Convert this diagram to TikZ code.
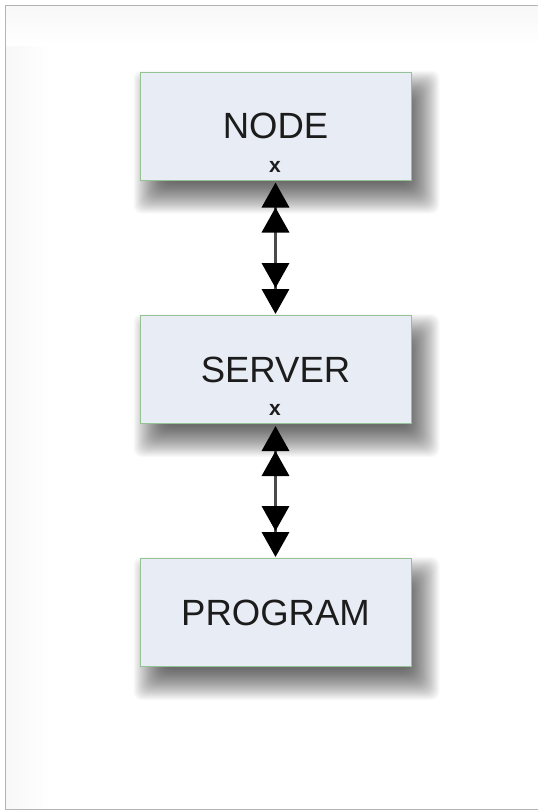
\documentclass[tikz,border=0pt]{standalone}
\usepackage{fontspec}
\setmainfont{Liberation Sans}
\usetikzlibrary{arrows.meta,positioning}
\definecolor{boxfill}{HTML}{E8ECF4}
\definecolor{boxline}{HTML}{94C294}
\definecolor{frameline}{HTML}{B4B4B4}
\definecolor{txt}{HTML}{1C1C1C}
\definecolor{arrowc}{HTML}{4A4A4A}
\pgfdeclarelayer{backdrop}
\pgfdeclarelayer{shadowlayer}
\pgfsetlayers{backdrop,shadowlayer,main}
\tikzset{
  compbox/.style={draw=boxline, line width=1pt, fill=boxfill, minimum width=271pt, minimum height=108pt,
    inner sep=0pt, font=\fontsize{36.5}{40}\selectfont, text=txt},
  xmark/.style={font=\bfseries\fontsize{21}{22}\selectfont, text=txt, inner sep=0pt},
  shadowstep/.style={fill=black, fill opacity=0.025, rounded corners=8pt},
  link/.style={draw=arrowc, line width=3.5pt, shorten >=1pt, shorten <=1pt,
    {Triangle[width=27pt,length=25pt,sep=1pt,fill=black,color=black] Triangle[width=27pt,length=25pt,fill=black,color=black]}-{Triangle[width=27pt,length=25pt,sep=1pt,fill=black,color=black] Triangle[width=27pt,length=25pt,fill=black,color=black]}}
}
\newcommand{\softshadow}[1]{%
  \begin{pgfonlayer}{shadowlayer}
  \foreach \e in {17,16,...,-14}{
    \fill[shadowstep] ([xshift={(11-\e)*1pt}, yshift={(-16-\e)*1pt}]#1.south west)
      rectangle ([xshift={(11+\e)*1pt}, yshift={(-16+\e)*1pt}]#1.north east);
  }
  \end{pgfonlayer}}
\begin{document}
\begin{tikzpicture}[x=1pt,y=-1pt]
\useasboundingbox (0,0) rectangle (538,812);
\begin{pgfonlayer}{backdrop}
\fill[white] (0,0) rectangle (538,812);
\shade[left color=gray!6, right color=white] (6,6) rectangle (50,809);
\shade[top color=gray!6, bottom color=white] (6,6) rectangle (538,45);
\draw[frameline, line width=1.5pt] (545,5.5) -- (5.5,5.5) -- (5.5,809.5) -- (545,809.5);
\end{pgfonlayer}
\node[compbox] (node) at (275.5,126) {NODE};
\node[compbox] (server) at (275.5,369.5) {SERVER};
\node[compbox] (program) at (275.5,612.5) {PROGRAM};
\softshadow{node}
\softshadow{server}
\softshadow{program}
\node[xmark] (xnode) at (275,167) {x};
\node[xmark] (xserver) at (275,410) {x};
\draw[link] (node.south) -- (server.north);
\draw[link] (server.south) -- (program.north);
\end{tikzpicture}
\end{document}
